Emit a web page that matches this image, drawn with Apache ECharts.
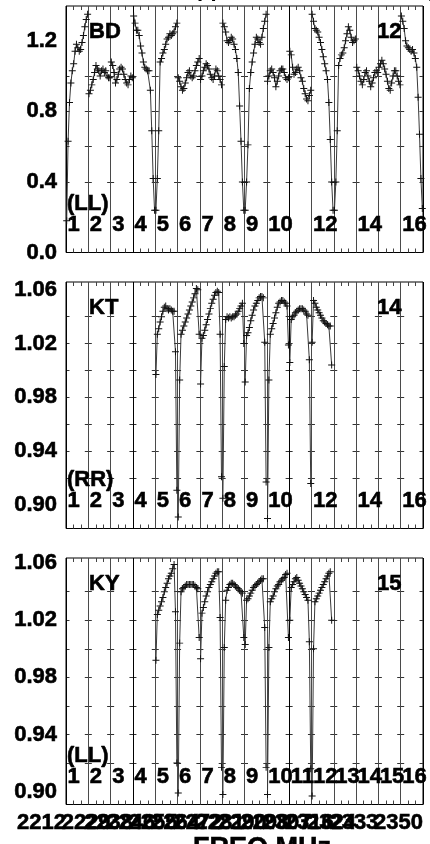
<!DOCTYPE html>
<html><head><meta charset="utf-8">
<script src="https://cdn.jsdelivr.net/npm/echarts@6/dist/echarts.min.js"></script>
<style>html,body{margin:0;padding:0;background:#fff;}#c{width:430px;height:844px;}</style>
</head><body><div id="c"></div>
<script>
// ---- data: one array of channel amplitudes per IF (16 IFs per panel) ----
const bdIF = [
  [0.18, 0.63, 0.85, 0.96, 1.03, 1.07, 1.14, 1.18, 1.16, 1.14, 1.15, 1.19, 1.23, 1.28, 1.32, 1.35],
  [0.90, 0.92, 0.95, 0.98, 1.02, 1.06, 1.04, 1.03, 1.00, 1.03, 1.04, 1.02, 1.03, 1.00, 0.99, 0.99],
  [1.08, 1.06, 1.02, 0.96, 0.98, 1.01, 1.04, 1.05, 1.04, 1.01, 0.98, 0.96, 0.95, 0.98, 1.00, 0.99],
  [1.34, 1.30, 1.26, 1.26, 1.23, 1.17, 1.13, 1.08, 1.05, 1.04, 1.03, 1.03, 0.92, 0.69, 0.42, 0.24],
  [0.24, 0.42, 0.69, 1.08, 1.10, 1.13, 1.15, 1.18, 1.21, 1.22, 1.24, 1.23, 1.24, 1.25, 1.28, 1.30],
  [0.99, 0.97, 0.94, 0.92, 0.93, 0.96, 0.99, 1.02, 1.03, 1.00, 0.99, 1.00, 1.03, 1.06, 1.08, 1.10],
  [0.98, 1.00, 1.03, 1.05, 1.07, 1.06, 1.04, 1.01, 0.99, 0.98, 1.00, 1.04, 1.03, 1.00, 0.98, 0.95],
  [1.30, 1.28, 1.25, 1.20, 1.19, 1.20, 1.22, 1.21, 1.18, 1.15, 1.10, 1.02, 0.83, 0.63, 0.40, 0.24],
  [0.24, 0.40, 0.61, 0.93, 1.02, 1.08, 1.13, 1.18, 1.22, 1.21, 1.19, 1.18, 1.22, 1.27, 1.31, 1.35],
  [0.97, 1.00, 1.03, 1.04, 1.02, 0.99, 0.94, 0.97, 1.00, 1.03, 1.04, 1.04, 1.02, 0.99, 0.98, 0.99],
  [1.14, 1.12, 1.05, 1.01, 1.02, 1.04, 1.05, 1.03, 0.99, 0.97, 0.93, 0.90, 0.87, 0.86, 0.89, 0.92],
  [1.35, 1.31, 1.27, 1.26, 1.25, 1.22, 1.19, 1.15, 1.11, 1.07, 1.03, 0.98, 0.85, 0.64, 0.40, 0.24],
  [0.24, 0.40, 0.69, 1.06, 1.10, 1.12, 1.13, 1.16, 1.20, 1.24, 1.28, 1.26, 1.22, 1.19, 1.20, 1.21],
  [1.05, 1.03, 1.00, 0.97, 0.95, 0.98, 1.02, 1.03, 1.00, 0.97, 0.94, 0.96, 0.99, 1.02, 1.03, 1.02],
  [1.05, 1.07, 1.09, 1.07, 1.04, 1.01, 0.97, 0.93, 0.92, 0.96, 1.00, 1.03, 1.03, 1.00, 0.97, 0.95],
  [1.34, 1.31, 1.27, 1.20, 1.17, 1.16, 1.15, 1.14, 1.15, 1.13, 1.10, 1.05, 0.88, 0.67, 0.42, 0.25]
];
const ktIF = [
  [], [], [], [],
  [0.997, 1.027, 1.031, 1.036, 1.040, 1.044, 1.047, 1.048, 1.046, 1.045, 1.046, 1.045, 1.044, 1.044, 1.014, 0.911],
  [0.891, 0.993, 1.027, 1.030, 1.033, 1.036, 1.039, 1.042, 1.045, 1.048, 1.051, 1.054, 1.057, 1.061, 1.060, 1.027],
  [0.990, 1.024, 1.026, 1.030, 1.034, 1.038, 1.042, 1.046, 1.050, 1.053, 1.056, 1.058, 1.059, 1.058, 1.027, 0.921],
  [0.905, 1.003, 1.038, 1.040, 1.039, 1.040, 1.039, 1.040, 1.040, 1.041, 1.042, 1.044, 1.046, 1.048, 1.050, 1.020],
  [0.9915, 1.026, 1.028, 1.032, 1.037, 1.041, 1.045, 1.048, 1.050, 1.052, 1.054, 1.055, 1.055, 1.054, 1.021, 0.917],
  [0.890, 0.993, 1.027, 1.031, 1.035, 1.039, 1.043, 1.047, 1.050, 1.051, 1.052, 1.052, 1.051, 1.050, 1.048, 1.019],
  [1.006, 1.038, 1.040, 1.041, 1.043, 1.044, 1.045, 1.046, 1.046, 1.046, 1.045, 1.044, 1.042, 1.041, 1.008, 0.916],
  [1.021, 1.052, 1.050, 1.047, 1.045, 1.043, 1.041, 1.039, 1.037, 1.036, 1.035, 1.034, 1.033, 1.033, 1.004],
  [], [], [], []
];
const kyIF = [
  [], [], [], [],
  [0.992, 1.024, 1.027, 1.030, 1.033, 1.036, 1.040, 1.043, 1.046, 1.049, 1.051, 1.053, 1.056, 1.059, 1.026, 0.920],
  [0.899, 1.004, 1.040, 1.042, 1.043, 1.044, 1.045, 1.045, 1.045, 1.045, 1.045, 1.045, 1.044, 1.043, 1.042, 1.008],
  [0.993, 1.025, 1.029, 1.033, 1.037, 1.040, 1.043, 1.045, 1.047, 1.049, 1.051, 1.053, 1.054, 1.054, 1.022, 0.917],
  [0.898, 1.001, 1.034, 1.041, 1.043, 1.045, 1.046, 1.046, 1.045, 1.044, 1.043, 1.042, 1.041, 1.040, 1.039, 1.008],
  [1.003, 1.034, 1.035, 1.037, 1.039, 1.041, 1.043, 1.044, 1.045, 1.046, 1.047, 1.048, 1.049, 1.049, 1.015, 0.917],
  [0.898, 1.001, 1.033, 1.035, 1.037, 1.040, 1.042, 1.044, 1.045, 1.047, 1.048, 1.049, 1.050, 1.052, 1.053, 1.008],
  [1.020, 1.043, 1.045, 1.047, 1.049, 1.050, 1.048, 1.046, 1.044, 1.042, 1.040, 1.038, 1.036, 1.034, 1.005, 0.916],
  [0.897, 1.000, 1.033, 1.035, 1.037, 1.039, 1.041, 1.043, 1.045, 1.047, 1.049, 1.051, 1.053, 1.054, 1.020],
  [], [], [], []
];
const CHANNELS = 16;
const stations = ['BD', 'KT', 'KY'];
const polarizations = ['(LL)', '(RR)', '(LL)'];
const ifCounts = ['12', '14', '15'];
const ifNamesSparse = ['1','2','3','4','5','6','7','8','9','10','','12','','14','','16'];
const ifNamesFull = ['1','2','3','4','5','6','7','8','9','10','11','12','13','14','15','16'];
const freqLabels = ['2212','2221','2229','2238','2246','2255','2264','2272','2281','2290','2298','2307','2316','2324','2333','2341','2350'];
const bdRange = [0, 1.397];
const ktRange = [0.8825, 1.0658];
const kyRange = [0.8910, 1.0636];
const bdTicks = [0.2, 0.4, 0.6, 0.8, 1.0, 1.2];
const bdTickLabels = [0.0, 0.4, 0.8, 1.2];
const smallTicks = [0.90, 0.92, 0.94, 0.96, 0.98, 1.00, 1.02, 1.04, 1.06];
const smallTickLabels = [0.90, 0.94, 0.98, 1.02, 1.06];
const xAxisTitle = 'FREQ MHz';
const topTitle = 'BP TABLE 1 applied to all data IFs by';

// ---- layout ----
const LEFT = 66, W = 357, H = 246.5, TOPS = [6, 282, 558];
const CW = W / 16;
const FONT = '"Liberation Sans", Arial, Helvetica, sans-serif';
const FS = 22;
const FONTCSS = 'bold ' + FS + 'px ' + FONT;
const PLUS = 'path://M0,4.3H10V5.7H0ZM4.3,0H5.7V10H4.3Z';

const panels = [
  {ifs: bdIF, range: bdRange, ticks: bdTicks, labels: bdTickLabels, dec: 1, names: ifNamesSparse},
  {ifs: ktIF, range: ktRange, ticks: smallTicks, labels: smallTickLabels, dec: 2, names: ifNamesSparse},
  {ifs: kyIF, range: kyRange, ticks: smallTicks, labels: smallTickLabels, dec: 2, names: ifNamesFull}
];

function toPoints(ifs) {
  const pts = [];
  ifs.forEach((chans, s) => {
    chans.forEach((v, c) => pts.push([s + (c + 0.5) / CHANNELS, v]));
    pts.push([s + 1, '-']);
  });
  return pts;
}

const vColors = Array.from({length: 17}, (_, i) => (i === 0 || i === 3 || i === 10 || i === 16) ? '#000' : '#4a4a4a');
const minorTick = {show: true, splitNumber: 3, length: 4, lineStyle: {color: '#444', width: 1}};
const labelStroke = {textBorderColor: '#000', textBorderWidth: 0.6};

const grid = [], xAxis = [], yAxis = [], series = [], elements = [];
panels.forEach((p, k) => {
  const T = TOPS[k];
  grid.push({left: LEFT, top: T, width: W, height: H, show: true, borderColor: '#000', borderWidth: 1,
             backgroundColor: 'transparent', containLabel: false, outerBoundsMode: 'none'});
  xAxis.push({
    gridIndex: k, type: 'value', min: 0, max: 16, interval: 1, position: 'bottom',
    axisLine: {show: false}, axisTick: {show: false, inside: true}, minorTick: minorTick,
    splitLine: {show: true, lineStyle: {color: vColors, width: 1}},
    axisLabel: k === 2 ? Object.assign({show: true, margin: 7, color: '#000', fontSize: FS, fontWeight: 'bold',
      fontFamily: FONT, padding: [0, 49, 0, 0], showMinLabel: true, showMaxLabel: true, hideOverlap: false,
      formatter: v => freqLabels[Math.round(v)] || ''}, labelStroke) : {show: false}
  });
  xAxis.push({
    gridIndex: k, type: 'value', min: 0, max: 16, interval: 1, position: 'top',
    axisLine: {show: false}, axisTick: {show: false, inside: true}, minorTick: minorTick,
    splitLine: {show: false}, axisLabel: {show: false}
  });
  yAxis.push({
    gridIndex: k, type: 'value', min: p.range[0], max: p.range[1],
    axisLine: {show: false},
    axisTick: {show: false, customValues: p.ticks},
    axisLabel: Object.assign({show: true, customValues: p.labels, margin: 9, color: '#000', fontSize: FS, fontWeight: 'bold',
      fontFamily: FONT, formatter: v => Number(v).toFixed(p.dec)}, labelStroke),
    splitLine: {show: true, showMinLine: false, showMaxLine: false,
      lineStyle: {color: '#333', width: 1, type: [7, CW - 7], dashOffset: 3.5}}
  });
  series.push({
    type: 'line', xAxisIndex: 2 * k, yAxisIndex: k, data: toPoints(p.ifs),
    symbol: PLUS, symbolSize: 7, showSymbol: true, showAllSymbol: true, connectNulls: false,
    lineStyle: {color: '#3a3a3a', width: 1}, itemStyle: {color: '#111'},
    emphasis: {disabled: true}, silent: true, animation: false, z: 3
  });
  const txt = (text, x, y, align) => ({type: 'text', x: x, y: y, silent: true, z: 10,
    style: {text: text, fill: '#000', stroke: '#000', lineWidth: 0.6, font: FONTCSS,
            align: align || 'left', verticalAlign: 'middle', textAlign: align || 'left', textVerticalAlign: 'middle'}});
  elements.push(txt(stations[k], 89, T + 25.5));
  elements.push(txt(ifCounts[k], 377, T + 25.5));
  elements.push(txt(polarizations[k], 67, T + 198));
  p.names.forEach((n, i) => { if (n) elements.push(txt(n, LEFT + i * CW + 1.5, T + 218.5)); });
});
elements.push({type: 'text', x: 262, y: 849, silent: true,
  style: {text: xAxisTitle, fill: '#000', stroke: '#000', lineWidth: 0.6, font: 'bold 27px ' + FONT,
          align: 'center', verticalAlign: 'middle', textAlign: 'center', textVerticalAlign: 'middle'}});
elements.push({type: 'text', x: 52, y: -10, silent: true,
  style: {text: topTitle, fill: '#000', font: FONTCSS, align: 'left', verticalAlign: 'middle', textAlign: 'left', textVerticalAlign: 'middle'}});

const chart = echarts.init(document.getElementById('c'), null, {renderer: 'canvas'});
chart.setOption({
  animation: false,
  backgroundColor: '#fff',
  textStyle: {fontFamily: FONT},
  grid: grid, xAxis: xAxis, yAxis: yAxis, series: series,
  graphic: {elements: elements}
});
</script></body></html>
